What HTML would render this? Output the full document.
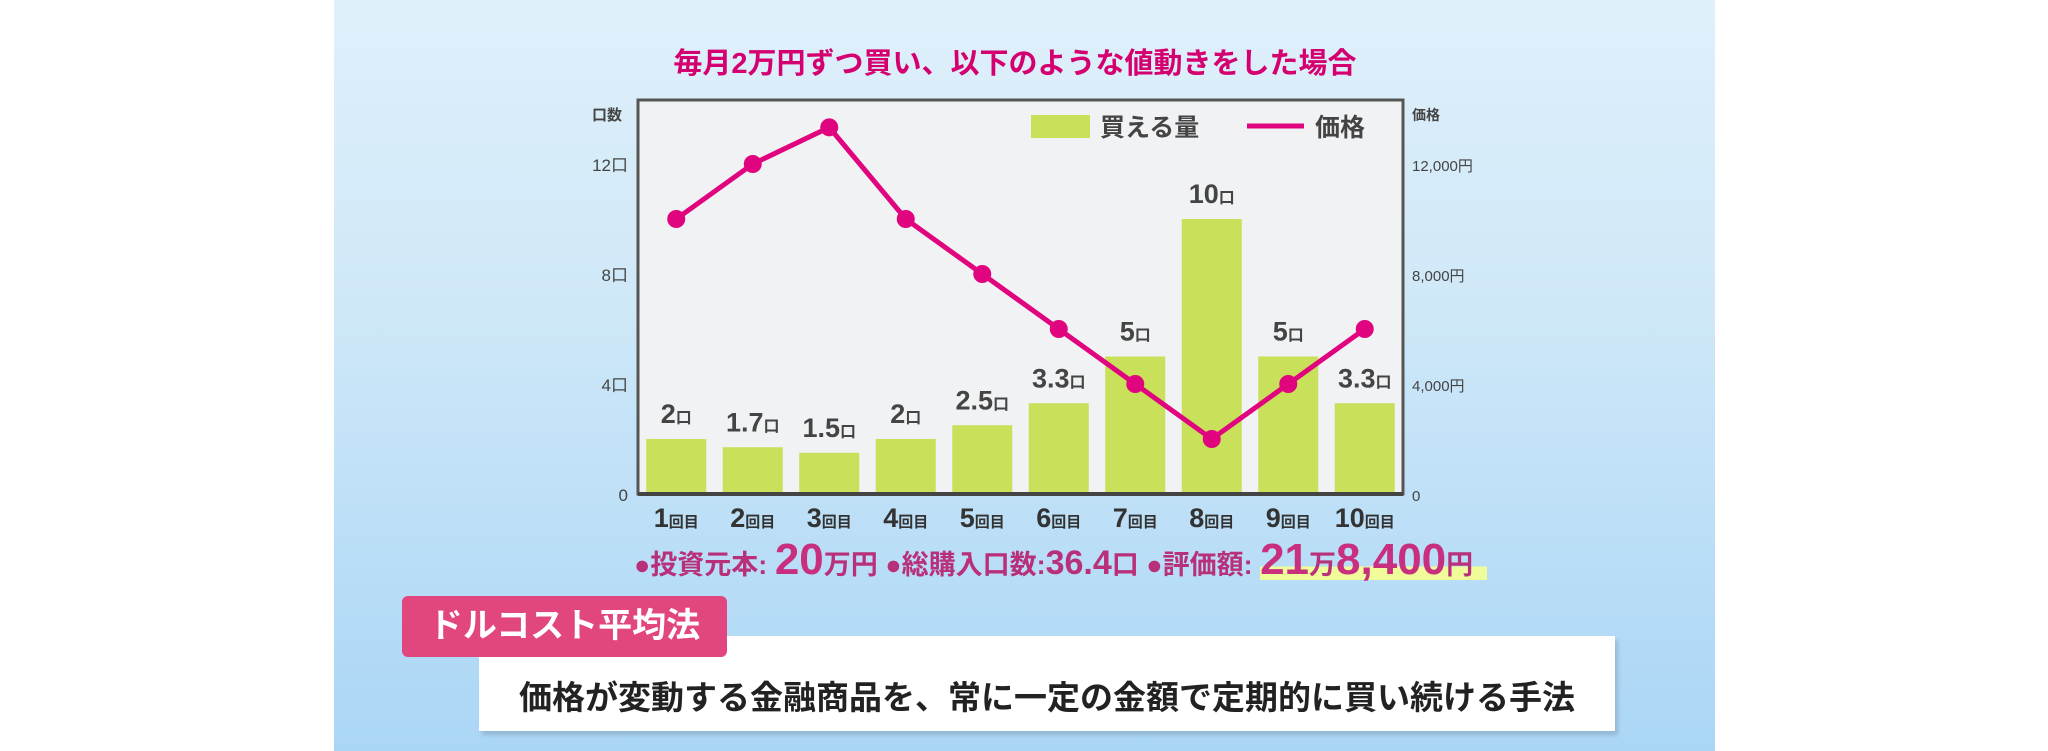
<!DOCTYPE html>
<html><head><meta charset="utf-8"><style>
body{margin:0;width:2048px;height:751px;overflow:hidden;background:#fff;font-family:"Liberation Sans","Noto Sans CJK JP",sans-serif;position:relative}
.abs{position:absolute}
.hl{background:linear-gradient(180deg,transparent 0,transparent 55%,#f0fb9a 55%,#f0fb9a 100%);padding-right:14px}
</style></head><body>
<div class="abs" style="left:334px;top:0;width:1381px;height:751px;background:linear-gradient(180deg,#dff0fa 0%,#cfe8f8 40%,#aad6f6 100%)"></div>
<div class="abs" style="left:500px;width:1030px;top:40px;text-align:center;font-size:29px;font-weight:bold;color:#d4006f">毎月2万円ずつ買い、以下のような値動きをした場合</div>
<svg class="abs" style="left:0;top:0" width="2048" height="751" id="chart"></svg>
<div class="abs" style="left:634px;top:535px;white-space:nowrap;font-weight:bold;color:#b8307a;font-size:27px">●投資元本: <span style="font-size:44px;color:#c8307f">20</span>万円 ●総購入口数:<span style="font-size:34px">36.4</span>口 ●評価額: <span class="hl"><span style="font-size:44px;color:#c8307f">21</span>万<span style="font-size:44px;color:#c8307f">8,400</span>円</span></div>
<div class="abs" style="left:479px;top:636px;width:1136px;height:95px;background:#fff;box-shadow:3px 4px 4px rgba(0,0,0,0.15)"></div>
<div class="abs" style="left:479px;width:1136px;top:671px;text-align:center;font-size:33px;font-weight:bold;color:#222">価格が変動する金融商品を、常に一定の金額で定期的に買い続ける手法</div>
<div class="abs" style="left:402px;top:596px;width:325px;height:61px;background:#e2467f;border-radius:6px;color:#fff;font-size:34px;font-weight:bold;line-height:61px;text-align:center">ドルコスト平均法</div>
<script>
const categories=["1","2","3","4","5","6","7","8","9","10"];
const units=[2,1.7,1.5,2,2.5,3.3,5,10,5,3.3];
const unitLabels=["2","1.7","1.5","2","2.5","3.3","5","10","5","3.3"];
const prices=[10000,12000,13333,10000,8000,6000,4000,2000,4000,6000];
const leftTicks=[0,4,8,12];
const rightTicks=[0,4000,8000,12000];
const rightTickLabels=["0","4,000円","8,000円","12,000円"];
const NS="http://www.w3.org/2000/svg";
const svg=document.getElementById('chart');
const L=638,R=1403,T=100,B=494;
const yL=v=>B-v*27.5;
const yR=v=>B-v*0.0275;
const slot=(R-L)/categories.length;
const xC=i=>L+slot*(i+0.5);
function mk(tag,attrs,parent){const e=document.createElementNS(NS,tag);for(const k in attrs)e.setAttribute(k,attrs[k]);(parent||svg).appendChild(e);return e;}
let e=mk('rect',{x:L,y:T,width:R-L,height:B-T,fill:'#f1f2f4',stroke:'#555','stroke-width':3});


units.forEach((v,i)=>{
 let b=mk('rect',{x:xC(i)-30,y:yL(v),width:60,height:B-yL(v),fill:'#c8e05a'});
 
 
 let t=mk('text',{x:xC(i),y:yL(v)-16,'text-anchor':'middle','font-size':27,'font-weight':'bold',fill:'#444'});
 
 
 t.innerHTML=unitLabels[i]+'<tspan font-size="16">口</tspan>';
 let x=mk('text',{x:xC(i),y:527,'text-anchor':'middle','font-size':27,'font-weight':'bold',fill:'#333'});
 
 
 x.innerHTML=categories[i]+'<tspan font-size="15">回目</tspan>';
});
let pts=prices.map((p,i)=>xC(i)+','+yR(p)).join(' ');
e=mk('polyline',{points:pts,fill:'none',stroke:'#e0047f','stroke-width':5,'stroke-linejoin':'round'});


prices.forEach((p,i)=>{let c=mk('circle',{cx:xC(i),cy:yR(p),r:9,fill:'#e0047f'});
 
 });
e=mk('line',{x1:L,y1:B,x2:R,y2:B,stroke:'#444','stroke-width':4});


leftTicks.forEach(v=>{let t=mk('text',{x:628,y:yL(v)+7,'text-anchor':'end','font-size':17,fill:'#444'});
 
 
 t.textContent=v===0?'0':v+'口';});
rightTicks.forEach((v,i)=>{let t=mk('text',{x:1412,y:yR(v)+7,'font-size':15,fill:'#444'});
 
 
 t.textContent=rightTickLabels[i];});
e=mk('text',{x:592,y:120,'font-size':15,'font-weight':'bold',fill:'#444'});e.textContent='口数';


e=mk('text',{x:1412,y:120,'font-size':14,'font-weight':'bold',fill:'#444'});e.textContent='価格';


e=mk('rect',{x:1031,y:115,width:59,height:23,fill:'#c8e05a'});


e=mk('text',{x:1100,y:136,'font-size':25,'font-weight':'bold',fill:'#444'});e.textContent='買える量';


e=mk('line',{x1:1247,y1:126,x2:1304,y2:126,stroke:'#e0047f','stroke-width':5});


e=mk('text',{x:1315,y:136,'font-size':25,'font-weight':'bold',fill:'#444'});e.textContent='価格';


</script>
</body></html>
